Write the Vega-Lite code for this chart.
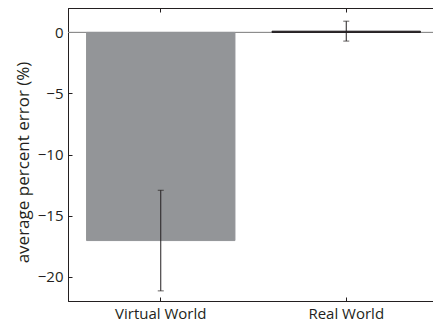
{
  "$schema": "https://vega.github.io/schema/vega-lite/v6.json",
  "width": 371,
  "height": 293,
  "autosize": {"type": "none"},
  "padding": {"left": 68, "top": 8, "right": 0, "bottom": 22},
  "background": "white",
  "config": {
    "font": "Open Sans",
    "view": {"stroke": "#231f20", "strokeWidth": 1},
    "axis": {
      "domainColor": "#231f20",
      "tickColor": "#231f20",
      "labelColor": "#231f20",
      "titleColor": "#231f20",
      "labelFont": "Open Sans",
      "titleFont": "Open Sans",
      "labelFontSize": 15,
      "titleFontSize": 17,
      "titleFontWeight": "normal",
      "grid": false
    }
  },
  "data": {
    "values": [
      {"world": "Virtual World", "mean": -17.05, "lo": -21.17, "hi": -12.93},
      {"world": "Real World", "mean": 0.1, "lo": -0.71, "hi": 0.92}
    ]
  },
  "resolve": {"axis": {"x": "independent"}},
  "layer": [
    {
      "mark": {"type": "rule", "color": "#8c8c8c", "strokeWidth": 1},
      "encoding": {"y": {"datum": 0, "type": "quantitative", "scale": {"domain": [-22, 2], "nice": false}}}
    },
    {
      "mark": {"type": "bar", "strokeWidth": 1},
      "encoding": {
        "x": {
          "field": "world", "type": "nominal", "sort": ["Virtual World", "Real World"],
          "scale": {"paddingInner": 0.2, "paddingOuter": 0.1},
          "axis": {"title": null, "labelAngle": 0, "tickSize": -4, "labelPadding": 9, "orient": "bottom"}
        },
        "y": {
          "field": "mean", "type": "quantitative",
          "scale": {"domain": [-22, 2], "nice": false},
          "axis": {
            "title": "average percent error (%)",
            "values": [-20, -15, -10, -5, 0],
            "labelExpr": "replace(datum.label, '-', '−')",
            "tickSize": -4,
            "labelPadding": 9,
            "titleX": -40,
            "titleY": 154,
            "titleAngle": -90,
            "titleAlign": "center",
            "titleBaseline": "alphabetic"
          }
        },
        "color": {"field": "world", "type": "nominal", "scale": {"domain": ["Virtual World", "Real World"], "range": ["#939598", "#231f20"]}, "legend": null},
        "stroke": {"field": "world", "type": "nominal", "scale": {"domain": ["Virtual World", "Real World"], "range": ["#939598", "#231f20"]}, "legend": null}
      }
    },
    {
      "mark": {"type": "rule", "color": "#231f20", "strokeWidth": 1},
      "encoding": {
        "x": {
          "field": "world", "type": "nominal", "sort": ["Virtual World", "Real World"],
          "axis": {"title": null, "labels": false, "tickSize": -4, "orient": "top"}
        },
        "y": {"field": "lo", "type": "quantitative"},
        "y2": {"field": "hi"}
      }
    },
    {
      "mark": {"type": "tick", "color": "#231f20", "size": 6, "thickness": 1},
      "encoding": {
        "x": {"field": "world", "type": "nominal", "sort": ["Virtual World", "Real World"], "axis": null},
        "y": {"field": "lo", "type": "quantitative"}
      }
    },
    {
      "mark": {"type": "tick", "color": "#231f20", "size": 6, "thickness": 1},
      "encoding": {
        "x": {"field": "world", "type": "nominal", "sort": ["Virtual World", "Real World"], "axis": null},
        "y": {"field": "hi", "type": "quantitative"}
      }
    }
  ]
}
